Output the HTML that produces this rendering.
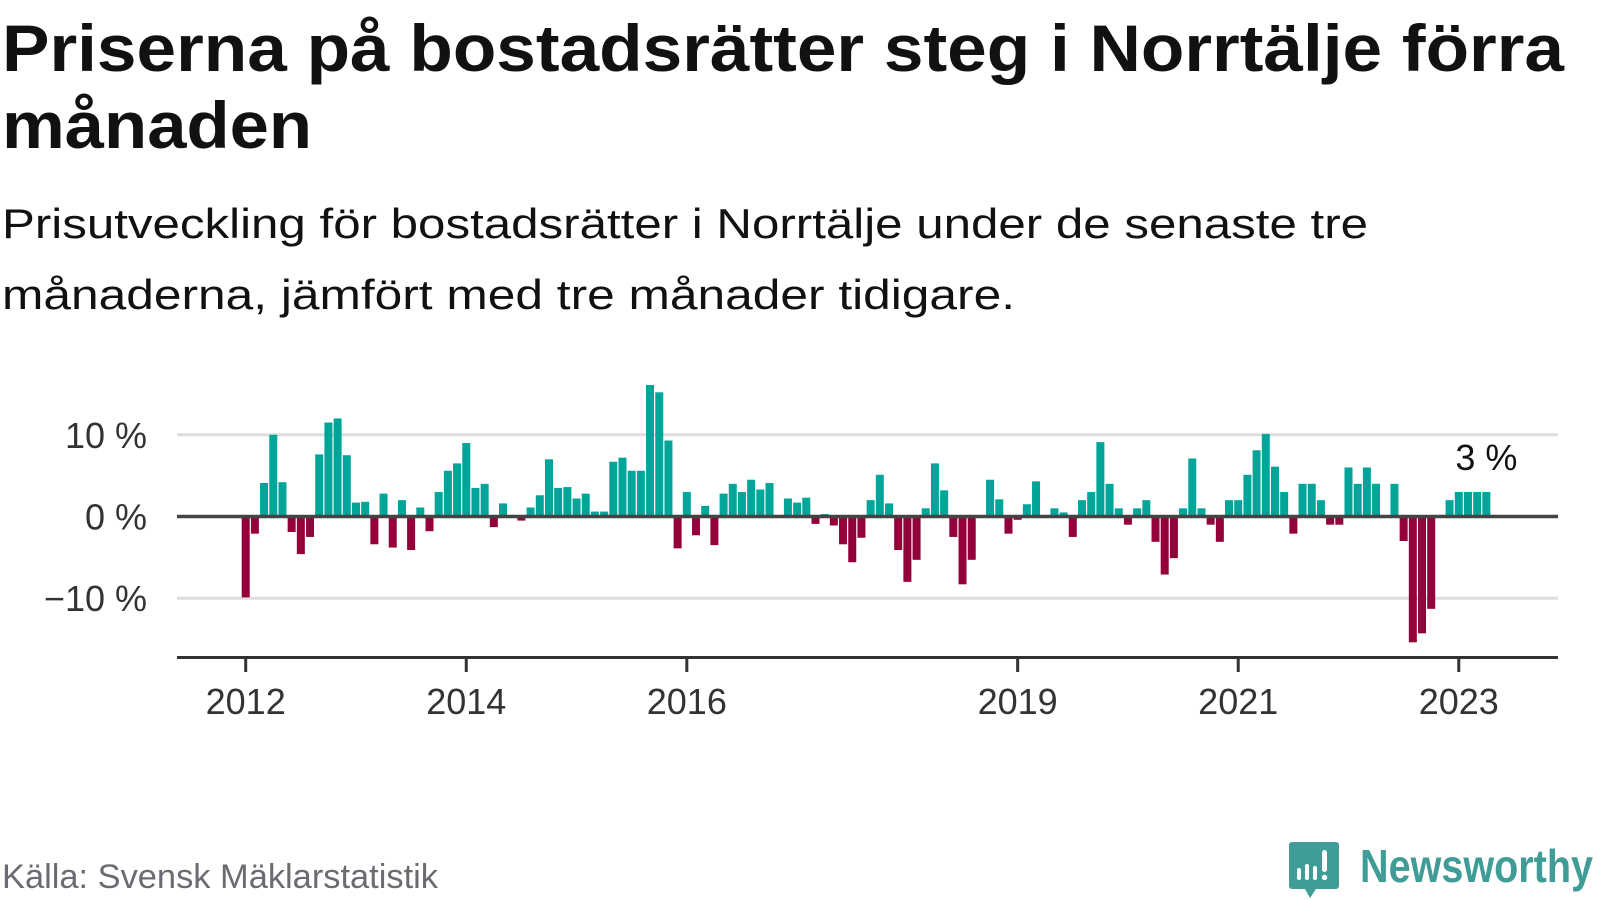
<!DOCTYPE html>
<html><head><meta charset="utf-8"><style>
html,body{margin:0;padding:0;background:#fff;width:1600px;height:900px;overflow:hidden}
svg{display:block;font-family:"Liberation Sans",sans-serif}
</style></head><body>
<svg id="chart" width="1600" height="900" viewBox="0 0 1600 900">
<text x="2" y="71" font-size="66" font-weight="bold" fill="#111" textLength="1562" lengthAdjust="spacingAndGlyphs">Priserna på bostadsrätter steg i Norrtälje förra</text>
<text x="2" y="148" font-size="66" font-weight="bold" fill="#111" textLength="310" lengthAdjust="spacingAndGlyphs">månaden</text>
<text x="2" y="238" font-size="42" fill="#111" textLength="1366" lengthAdjust="spacingAndGlyphs">Prisutveckling för bostadsrätter i Norrtälje under de senaste tre</text>
<text x="2" y="309" font-size="42" fill="#111" textLength="1013" lengthAdjust="spacingAndGlyphs">månaderna, jämfört med tre månader tidigare.</text>
<g id="grid"></g><g id="bars"></g><g id="axes"></g>
<text x="2" y="888" font-size="34" fill="#6b6b72" textLength="436" lengthAdjust="spacingAndGlyphs">Källa: Svensk Mäklarstatistik</text>
<g>
<path d="M1292 842 h44 a3 3 0 0 1 3 3 v41 a3 3 0 0 1 -3 3 h-20 l-6 9 l-5 -9 h-13 a3 3 0 0 1 -3 -3 v-41 a3 3 0 0 1 3 -3z" fill="#3f9c96"/>
<rect x="1297" y="868" width="4" height="12" rx="2" fill="#fff"/>
<rect x="1305" y="864" width="4" height="16" rx="2" fill="#fff"/>
<rect x="1313" y="866" width="4" height="14" rx="2" fill="#fff"/>
<rect x="1322" y="850" width="5" height="22" rx="2.5" fill="#fff"/>
<circle cx="1324.5" cy="877.5" r="2.7" fill="#fff"/>
<text x="1360" y="882" font-size="46" font-weight="bold" fill="#3f9c96" textLength="233" lengthAdjust="spacingAndGlyphs">Newsworthy</text>
</g>
</svg>
<script>
const values = [-9.9,-2.1,4.1,10.0,4.2,-1.9,-4.6,-2.5,7.6,11.5,12.0,7.5,1.7,1.8,-3.4,2.8,-3.8,2.0,-4.1,1.1,-1.8,3.0,5.6,6.5,9.0,3.5,4.0,-1.3,1.6,null,-0.5,1.1,2.6,7.0,3.5,3.6,2.2,2.8,0.6,0.6,6.7,7.2,5.6,5.6,16.1,15.2,9.3,-3.9,3.0,-2.3,1.3,-3.5,2.8,4.0,3.0,4.5,3.3,4.1,null,2.2,1.7,2.3,-0.9,0.3,-1.1,-3.4,-5.6,-2.6,2.0,5.1,1.6,-4.1,-8.0,-5.3,1.0,6.5,3.2,-2.5,-8.3,-5.3,null,4.5,2.1,-2.1,-0.4,1.5,4.3,null,1.0,0.5,-2.5,2.0,3.0,9.1,4.0,1.0,-1.0,1.0,2.0,-3.1,-7.1,-5.1,1.0,7.1,1.0,-1.0,-3.1,2.0,2.0,5.1,8.1,10.1,6.1,3.0,-2.1,4,4,2,-1,-1,6,4,6,4,null,4,-3,-15.4,-14.3,-11.3,null,2,3,3,3,3];
const yTicks = [10,0,-10];
const yTickLabels = ["10 %","0 %","−10 %"];
const xTickIdx = [0,24,48,84,108,132];
const xTickLabels = ["2012","2014","2016","2019","2021","2023"];
const lastLabel = "3 %";

const NS="http://www.w3.org/2000/svg";
const x0=245.7, step=9.19, bw=8, zeroY=516.5, ppu=8.17;
const xs=i=>x0+i*step;
const ys=v=>zeroY - v*ppu;
function mk(tag,attrs,parent){const e=document.createElementNS(NS,tag);for(const k in attrs)e.setAttribute(k,attrs[k]);parent.appendChild(e);return e;}
const grid=document.getElementById('grid'),bars=document.getElementById('bars'),axes=document.getElementById('axes');
yTicks.forEach((t,k)=>{
  if(t!==0){const l=mk('line',{x1:177,x2:1558,y1:ys(t),y2:ys(t),stroke:'#dddddd','stroke-width':3},grid);
  
  }
  const tx=mk('text',{x:147,y:ys(t)+13,'font-size':36,fill:'#333','text-anchor':'end'},axes);
  tx.textContent=yTickLabels[k];
  
  
});
values.forEach((v,i)=>{
  if(v===null)return;
  const y=Math.min(ys(v),zeroY), h=Math.abs(ys(v)-zeroY);
  const r=mk('rect',{x:xs(i)-bw/2,y:y,width:bw,height:h,fill:v>=0?'#00a59a':'#93003a'},bars);
  
  
});
const z=mk('line',{x1:177,x2:1558,y1:zeroY,y2:zeroY,stroke:'#444','stroke-width':3.5},axes);


const xa=mk('line',{x1:177,x2:1558,y1:657.5,y2:657.5,stroke:'#333','stroke-width':3},axes);


xTickIdx.forEach((idx,k)=>{
  const t=mk('line',{x1:xs(idx),x2:xs(idx),y1:657,y2:672,stroke:'#333','stroke-width':3},axes);
  
  
  const tx=mk('text',{x:xs(idx),y:714,'font-size':36,fill:'#333','text-anchor':'middle'},axes);
  tx.textContent=xTickLabels[k];
  
  
});
const li=values.length-1;
const lab=mk('text',{x:xs(li),y:470,'font-size':36,fill:'#111','text-anchor':'middle'},axes);
lab.textContent=lastLabel;


</script>
</body></html>
